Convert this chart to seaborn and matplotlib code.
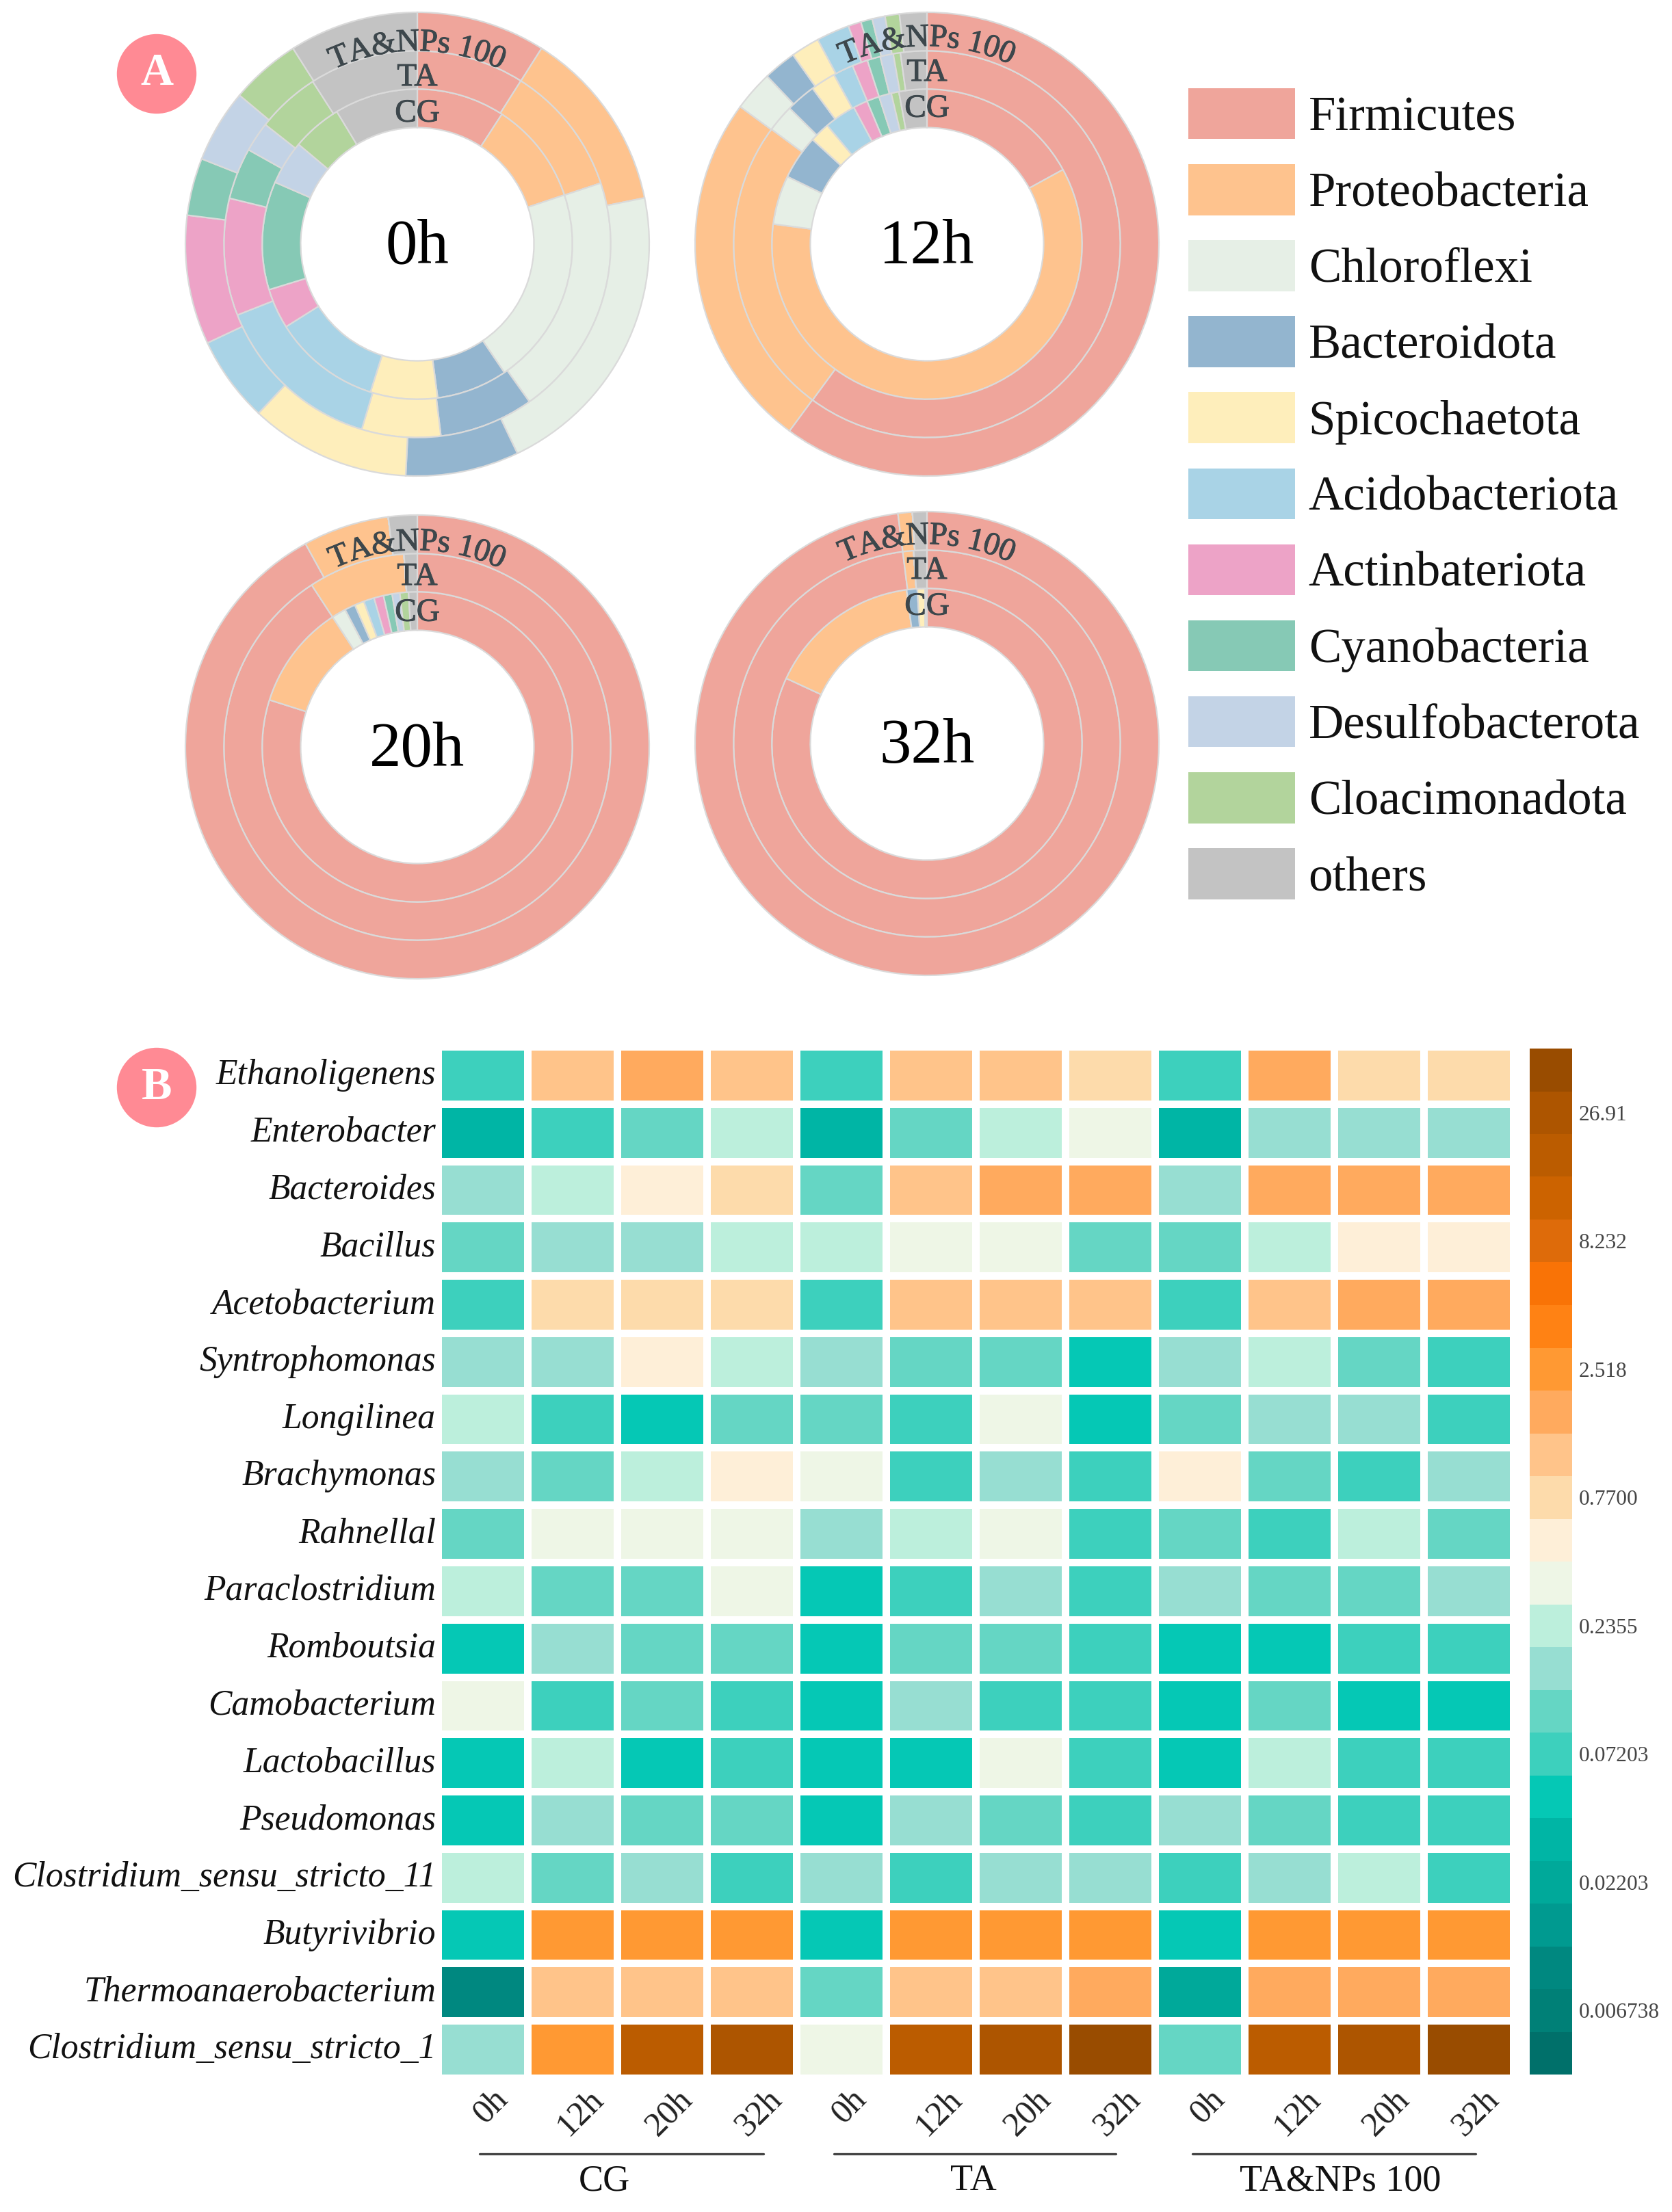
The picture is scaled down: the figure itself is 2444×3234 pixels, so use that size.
import numpy as np
import pandas as pd
import matplotlib
matplotlib.use("Agg")
import matplotlib.pyplot as plt
import matplotlib.patheffects as pe
from matplotlib.colors import ListedColormap, LogNorm
from matplotlib.patches import Patch, Circle
from matplotlib.font_manager import FontProperties
from matplotlib.transforms import ScaledTranslation
import seaborn as sns

sns.set_theme(style="white")
plt.rcParams["font.family"] = ["Liberation Serif", "DejaVu Serif"]

W, H = 2444, 3234
DPI = 200

# ---------- data: panel A (percent of reads) ----------
phyla = ["Firmicutes", "Proteobacteria", "Chloroflexi", "Bacteroidota", "Spicochaetota",
         "Acidobacteriota", "Actinbateriota", "Cyanobacteria", "Desulfobacterota",
         "Cloacimonadota", "others"]
phyla_colors = ["#EFA59B", "#FEC38E", "#E6EFE6", "#93B5CF", "#FEEEBB", "#A9D3E6",
                "#EDA3C7", "#86C9B5", "#C3D3E6", "#B2D49C", "#C3C3C3"]

h0_CG = [9.2, 10.7, 20.7, 7.4, 7.0, 11.2, 4.2, 11.3, 4.6, 5.2, 8.7]
h0_TA = [9.0, 10.9, 20.3, 7.9, 6.6, 14.4, 9.8, 4.3, 2.5, 5.3, 9.1]
h0_NP = [9.0, 12.8, 21.1, 7.9, 11.2, 6.0, 9.0, 4.0, 5.1, 4.9, 9.0]

h12_CG = [17.0, 60.0, 5.1, 4.6, 2.1, 3.3, 1.5, 1.3, 1.3, 0.8, 2.9]
h12_TA = [60.2, 25.1, 2.3, 2.5, 2.1, 1.7, 1.3, 1.1, 1.1, 0.6, 2.2]
h12_NP = [60.1, 25.0, 2.8, 2.3, 2.0, 2.3, 0.9, 0.8, 0.9, 1.0, 1.9]

h20_CG = [79.9, 10.9, 1.5, 1.1, 1.0, 1.1, 1.0, 0.9, 0.8, 0.9, 0.9]
h20_TA = [90.8, 8.1, 0, 0, 0, 0, 0, 0, 0, 0, 1.1]
h20_NP = [91.9, 6.0, 0, 0, 0, 0, 0, 0, 0, 0, 2.0]

h32_CG = [81.9, 16.0, 0, 1.1, 0.8, 0, 0, 0, 0, 0, 0.2]
h32_TA = [98.0, 0.9, 0, 0, 0, 0, 0, 0, 0, 0, 1.1]
h32_NP = [98.0, 1.0, 0, 0, 0, 0, 0, 0, 0, 0, 1.0]

ring_names = ["CG", "TA", "TA&NPs 100"]

# ---------- data: panel B ----------
genera = ["Ethanoligenens", "Enterobacter", "Bacteroides", "Bacillus", "Acetobacterium",
          "Syntrophomonas", "Longilinea", "Brachymonas", "Rahnellal", "Paraclostridium",
          "Romboutsia", "Camobacterium", "Lactobacillus", "Pseudomonas",
          "Clostridium_sensu_stricto_11", "Butyrivibrio", "Thermoanaerobacterium",
          "Clostridium_sensu_stricto_1"]
times = ["0h", "12h", "20h", "32h"]
groups = ["CG", "TA", "TA&NPs 100"]

abundance = [
    [0.072, 1.14, 1.70, 1.14, 0.072, 1.14, 1.14, 0.77, 0.072, 1.70, 0.77, 0.77],
    [0.033, 0.072, 0.107, 0.2355, 0.033, 0.107, 0.2355, 0.349, 0.033, 0.159, 0.159, 0.159],
    [0.159, 0.2355, 0.519, 0.77, 0.107, 1.14, 1.70, 1.70, 0.159, 1.70, 1.70, 1.70],
    [0.107, 0.159, 0.159, 0.2355, 0.2355, 0.349, 0.349, 0.107, 0.107, 0.2355, 0.519, 0.519],
    [0.072, 0.77, 0.77, 0.77, 0.072, 1.14, 1.14, 1.14, 0.072, 1.14, 1.70, 1.70],
    [0.159, 0.159, 0.519, 0.2355, 0.159, 0.107, 0.107, 0.0485, 0.159, 0.2355, 0.107, 0.072],
    [0.2355, 0.072, 0.0485, 0.107, 0.107, 0.072, 0.349, 0.0485, 0.107, 0.159, 0.159, 0.072],
    [0.159, 0.107, 0.2355, 0.519, 0.349, 0.072, 0.159, 0.072, 0.519, 0.107, 0.072, 0.159],
    [0.107, 0.349, 0.349, 0.349, 0.159, 0.2355, 0.349, 0.072, 0.107, 0.072, 0.2355, 0.107],
    [0.2355, 0.107, 0.107, 0.349, 0.0485, 0.072, 0.159, 0.072, 0.159, 0.107, 0.107, 0.159],
    [0.0485, 0.159, 0.107, 0.107, 0.0485, 0.107, 0.107, 0.072, 0.0485, 0.0485, 0.072, 0.072],
    [0.349, 0.072, 0.107, 0.072, 0.0485, 0.159, 0.072, 0.072, 0.0485, 0.107, 0.0485, 0.0485],
    [0.0485, 0.2355, 0.0485, 0.072, 0.0485, 0.0485, 0.349, 0.072, 0.0485, 0.2355, 0.072, 0.072],
    [0.0485, 0.159, 0.107, 0.107, 0.0485, 0.159, 0.107, 0.072, 0.159, 0.107, 0.072, 0.072],
    [0.2355, 0.107, 0.159, 0.072, 0.159, 0.072, 0.159, 0.159, 0.072, 0.159, 0.2355, 0.072],
    [0.0485, 2.52, 2.52, 2.52, 0.0485, 2.52, 2.52, 2.52, 0.0485, 2.52, 2.52, 2.52],
    [0.010, 1.14, 1.14, 1.14, 0.107, 1.14, 1.14, 1.70, 0.022, 1.70, 1.70, 1.70],
    [0.159, 2.52, 18.1, 26.9, 0.349, 18.1, 26.9, 40.0, 0.107, 18.1, 26.9, 40.0],
]

level_colors = ["#00706A", "#008077", "#008880", "#009A90", "#00A99A", "#00B5A5",
                "#05C8B5", "#3DD0BD", "#65D6C4", "#97DED2", "#BCEFDC", "#EEF6E6",
                "#FEEFD8", "#FDDBAB", "#FFC48A", "#FFAA5E", "#FF9933", "#FF8214",
                "#F97306", "#DE6B0A", "#CC6300", "#BB5C00", "#AD5500", "#994C00"]
cbar_ticks = [0.006738, 0.02203, 0.07203, 0.2355, 0.7700, 2.518, 8.232, 26.91]
cbar_labels = ["0.006738", "0.02203", "0.07203", "0.2355", "0.7700", "2.518", "8.232", "26.91"]

# ---------- layout helpers ----------
fig = plt.figure(figsize=(W / DPI, H / DPI), dpi=DPI, facecolor="white")


def px_axes(x0, y0, x1, y1, **kw):
    return fig.add_axes([x0 / W, 1 - y1 / H, (x1 - x0) / W, (y1 - y0) / H], **kw)


def px_text(x, y, s, **kw):
    kw.setdefault("ha", "center")
    kw.setdefault("va", "center")
    return fig.text(x / W, 1 - y / H, s, **kw)


renderer = fig.canvas.get_renderer()
R_PX = 339
RING_EDGES = [0.503, 0.669, 0.834, 1.0]
TXT_COLOR = "#3D474C"
HEAVY = [pe.withStroke(linewidth=0.35, foreground=TXT_COLOR)]


def curved_text(ax, s, radius, size, color, dy):
    fp = FontProperties(family="Liberation Serif", size=size)
    w0, _, _ = renderer.get_text_width_height_descent("nn", fp, False)
    adv = [renderer.get_text_width_height_descent("n" + ch + "n", fp, False)[0] - w0 for ch in s]
    scale = 1 / R_PX
    total = sum(adv) * scale / radius
    pos = -total / 2
    for ch, a in zip(s, adv):
        th = pos + a * scale / radius / 2
        ax.text(radius * np.sin(th), radius * np.cos(th) + dy, ch, rotation=-np.degrees(th),
                rotation_mode="anchor", ha="center", va="center", fontproperties=fp,
                color=color, path_effects=HEAVY)
        pos += a * scale / radius


def donut(cx, cy, title, rings, label_shift_px):
    ax = px_axes(cx - R_PX, cy - R_PX, cx + R_PX, cy + R_PX)
    for i, vals in enumerate(rings):
        ax.pie(vals, colors=phyla_colors, startangle=90, counterclock=False,
               radius=RING_EDGES[i + 1], normalize=True,
               wedgeprops=dict(width=RING_EDGES[i + 1] - RING_EDGES[i],
                               edgecolor="#DADADA", linewidth=0.8))
    ax.set_xlim(-1, 1)
    ax.set_ylim(-1, 1)
    ax.set_aspect("equal")
    ax.axis("off")
    dy = -label_shift_px / R_PX
    ax.text(0, -0.015, title, ha="center", va="center", fontsize=33.5, color="black")
    ax.text(0, 0.58 + dy, ring_names[0], ha="center", va="center", fontsize=17,
            color=TXT_COLOR, path_effects=HEAVY)
    ax.text(0, 0.735 + dy, ring_names[1], ha="center", va="center", fontsize=17,
            color=TXT_COLOR, path_effects=HEAVY)
    curved_text(ax, ring_names[2], 0.885, 17, TXT_COLOR, dy)
    return ax


donut(610, 357, "0h", [h0_CG, h0_TA, h0_NP], 6)
donut(1355, 357, "12h", [h12_CG, h12_TA, h12_NP], -1)
donut(610, 1092, "20h", [h20_CG, h20_TA, h20_NP], 1)
donut(1355, 1087, "32h", [h32_CG, h32_TA, h32_NP], -3)

# legend
handles = [Patch(facecolor=c, edgecolor="none", label=n) for c, n in zip(phyla_colors, phyla)]
fig.legend(handles=handles, loc="upper left", bbox_to_anchor=(1737 / W, 1 - 129 / H),
           frameon=False, fontsize=25.5, borderpad=0, borderaxespad=0,
           handlelength=2.2, handleheight=1.24, labelspacing=0.495, handletextpad=0.28,
           labelcolor="#111111")

# ---------- panel B heatmap ----------
columns = [f"{g} {t}" for g in groups for t in times]
table = pd.DataFrame(abundance, index=genera, columns=columns)

ax_h = px_axes(640, 1530, 2212, 3038)
ax_c = px_axes(2236, 1533, 2298, 3033)
sns.heatmap(table, ax=ax_h, cbar_ax=ax_c, cmap=ListedColormap(level_colors),
            norm=LogNorm(vmin=0.00373, vmax=48.6), linewidths=3.8, linecolor="white",
            xticklabels=times * 3, yticklabels=genera, square=False)
ax_h.tick_params(axis="both", length=0)
ax_h.tick_params(axis="y", pad=1, rotation=0)
ax_h.tick_params(axis="x", pad=3)
ax_h.set_xlabel("")
ax_h.set_ylabel("")
for t in ax_h.get_yticklabels():
    t.set_fontstyle("italic")
    t.set_fontsize(18.6)
    t.set_color("#111111")
xshift = ScaledTranslation(12 / DPI, 0, fig.dpi_scale_trans)
for t in ax_h.get_xticklabels():
    t.set_rotation(45)
    t.set_fontsize(18)
    t.set_ha("center")
    t.set_color("#222222")
    t.set_transform(t.get_transform() + xshift)

cbar = ax_h.collections[0].colorbar
cbar.set_ticks(cbar_ticks, labels=cbar_labels)
cbar.minorticks_off()
cbar.ax.tick_params(length=0, pad=3.5, labelsize=11.3, labelcolor="#444444")
cbar.outline.set_visible(False)

# group bars and labels beneath the heatmap
for x0, x1, xt, name in [(701, 1116, 883, groups[0]), (1219, 1631, 1423, groups[1]),
                         (1743, 2157, 1959, groups[2])]:
    fig.add_artist(plt.Line2D([x0 / W, x1 / W], [1 - 3149 / H] * 2, color="#444444", lw=1.2))
    px_text(xt, 3189, name, fontsize=19.5, color="#111111")

# panel badges
for yc, letter in [(108, "A"), (1590, "B")]:
    ax_b = px_axes(229 - 60, yc - 60, 229 + 60, yc + 60)
    ax_b.add_patch(Circle((0, 0), 0.97, facecolor="#FF8A94", edgecolor="none"))
    ax_b.set_xlim(-1, 1)
    ax_b.set_ylim(-1, 1)
    ax_b.set_aspect("equal")
    ax_b.axis("off")
    ax_b.text(0, 0, letter, ha="center", va="center", fontsize=24, fontweight="bold", color="white")

fig.savefig("out.png", dpi=DPI, facecolor="white")
